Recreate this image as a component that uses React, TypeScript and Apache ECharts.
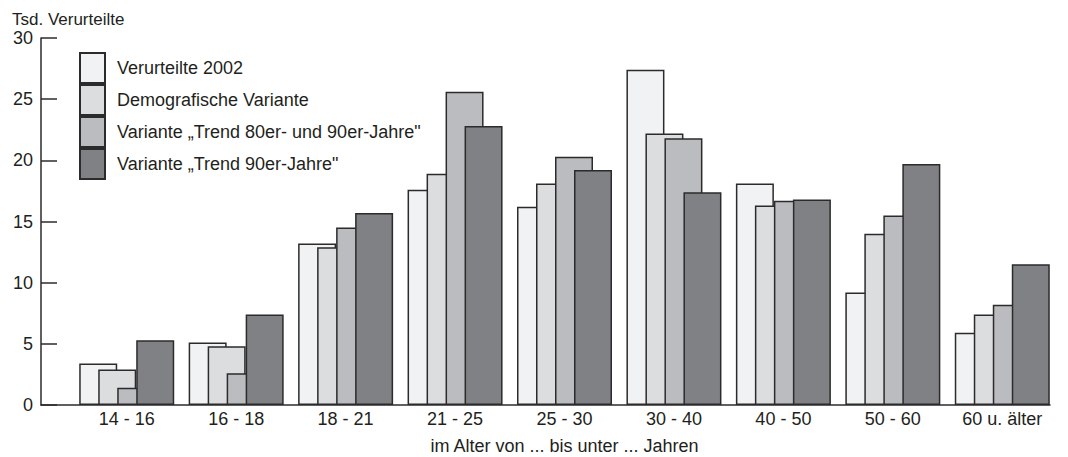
import React, { useEffect, useRef } from "react";
import * as echarts from "echarts";

const categories = ["14 - 16", "16 - 18", "18 - 21", "21 - 25", "25 - 30", "30 - 40", "40 - 50", "50 - 60", "60 u. älter"];
const seriesNames = [
  "Verurteilte 2002",
  "Demografische Variante",
  "Variante „Trend 80er- und 90er-Jahre\"",
  "Variante „Trend 90er-Jahre\"",
];
const verurteilte2002 = [3.4, 5.1, 13.2, 17.6, 16.2, 27.4, 18.1, 9.2, 5.9];
const demografisch = [2.9, 4.8, 12.9, 18.9, 18.1, 22.2, 16.3, 14.0, 7.4];
const trend8090 = [1.4, 2.6, 14.5, 25.6, 20.3, 21.8, 16.7, 15.5, 8.2];
const trend90 = [5.3, 7.4, 15.7, 22.8, 19.2, 17.4, 16.8, 19.7, 11.5];
const yTicks = [0, 5, 10, 15, 20, 25, 30];

const colors = ["#f1f2f3", "#dcdddf", "#bbbcbf", "#808184"];
const FONT = "Liberation Sans, Arial, sans-serif";
const TEXT = "#231f20";
const FS = 18;

export default function App() {
  const ref = useRef<HTMLDivElement>(null);
  useEffect(() => {
    if (!ref.current) return;
    const chart = echarts.init(ref.current, undefined, { renderer: "svg" });
    const values = [verurteilte2002, demografisch, trend8090, trend90];
    chart.setOption({
      animation: false,
      textStyle: { fontFamily: FONT },
      graphic: [
        {
          type: "text",
          left: 12,
          top: 11,
          style: { text: "Tsd. Verurteilte", fontSize: 17, fill: TEXT, fontFamily: FONT },
        },
      ],
      legend: {
        orient: "vertical",
        left: 79,
        top: 52,
        padding: 0,
        itemWidth: 25,
        itemHeight: 30,
        itemGap: 0,
        icon: "rect",
        data: seriesNames,
        textStyle: { fontSize: FS, color: TEXT, fontFamily: FONT, padding: [0, 0, 0, 7] },
      },
      grid: [
        { left: 72, right: 11, top: 38, bottom: 52, outerBoundsMode: "none", containLabel: false },
        { left: 41, right: 18, top: 38, bottom: 52, outerBoundsMode: "none", containLabel: false },
      ],
      xAxis: [
        {
          type: "category",
          gridIndex: 0,
          data: categories,
          axisLine: { show: false },
          axisTick: { show: false },
          axisLabel: { fontSize: FS, color: TEXT, margin: 5, fontFamily: FONT },
          name: "im Alter von ... bis unter ... Jahren",
          nameLocation: "middle",
          nameGap: 32,
          nameTextStyle: { fontSize: FS, color: TEXT, fontFamily: FONT },
        },
        {
          type: "value",
          gridIndex: 1,
          min: 0,
          max: 1,
          axisLine: { show: true, lineStyle: { color: "#2b2b2b", width: 1.5 } },
          axisTick: { show: false },
          axisLabel: { show: false },
          splitLine: { show: false },
        },
      ],
      yAxis: [
        {
          type: "value",
          gridIndex: 0,
          min: yTicks[0],
          max: yTicks[yTicks.length - 1],
          interval: 5,
          show: false,
          splitLine: { show: false },
        },
        {
          type: "value",
          gridIndex: 1,
          min: yTicks[0],
          max: yTicks[yTicks.length - 1],
          interval: 5,
          axisLine: { show: true, lineStyle: { color: "#2b2b2b", width: 1.5 } },
          axisTick: { show: true, inside: true, length: 16, lineStyle: { color: "#2b2b2b", width: 1.5 } },
          axisLabel: { fontSize: FS, color: TEXT, margin: 8, fontFamily: FONT },
          splitLine: { show: false },
        },
      ],
      series: seriesNames.map((name, i) => ({
        name,
        type: "bar",
        xAxisIndex: 0,
        yAxisIndex: 0,
        data: values[i],
        barWidth: 38,
        barGap: "-50%",
        itemStyle: { color: colors[i], borderColor: "#2b2b2b", borderWidth: 1.5 },
      })),
    });
    return () => chart.dispose();
  }, []);
  return (
    <div
      ref={ref}
      style={{ position: "fixed", left: 0, top: 0, width: 1068, height: 457, background: "#fff" }}
    />
  );
}
